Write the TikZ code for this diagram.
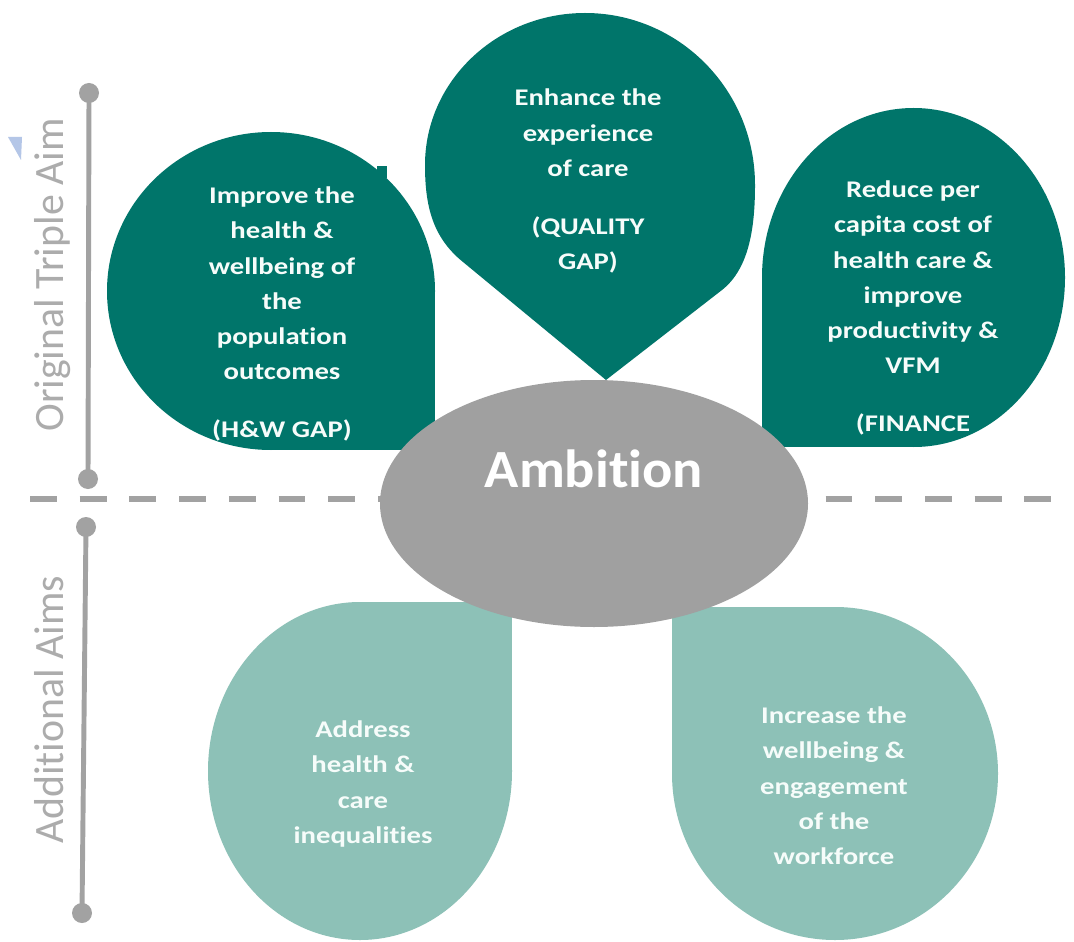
\documentclass[tikz,border=0pt]{standalone}
\usepackage{fontspec}
\newfontfamily\petalfont[FakeStretch=1.2, Ligatures=NoCommon, Contextuals=NoAlternate]{Carlito}
\newfontfamily\labelfont[Ligatures=NoCommon, Contextuals=NoAlternate]{Carlito}
\newfontfamily\ambfont[FakeStretch=1.05, Ligatures=NoCommon, Contextuals=NoAlternate]{Carlito}

\definecolor{tealdark}{RGB}{0,117,106}
\definecolor{teallight}{RGB}{141,193,183}
\definecolor{ambgray}{RGB}{160,160,160}
\definecolor{rulegray}{RGB}{162,162,162}
\definecolor{labelgray}{RGB}{172,172,172}
\definecolor{petalwhite}{RGB}{246,252,250}
\definecolor{markblue}{RGB}{180,198,231}

\tikzset{
  darkpetal/.style={fill=tealdark},
  lightpetal/.style={fill=teallight},
  petaltext/.style={text=petalwhite, align=center, inner sep=0pt,
    font=\petalfont\bfseries\fontsize{13.6}{20.1}\selectfont},
  sidelabel/.style={text=labelgray, rotate=90, anchor=base, inner sep=0pt,
    font=\labelfont\fontsize{23.8}{28}\selectfont},
  aimrule/.style={draw=rulegray, line width=2.8pt},
  aimdot/.style={fill=rulegray},
  splitline/.style={draw=rulegray, line width=3.2pt, dash pattern=on 15.3pt off 13pt}
}

\begin{document}
\begin{tikzpicture}[x=0.02cm, y=-0.02cm]
  \useasboundingbox (0,0) rectangle (1074,942);
  \fill[white] (0,0) rectangle (1074,942);

  % small marker at the upper left
  \fill[markblue] (8,137) -- (22,137) -- (21,160) -- cycle;

  % side rules with end dots
  \coordinate (ta) at (89,93);
  \coordinate (tb) at (88,479);
  \coordinate (ba) at (86,527);
  \coordinate (bb) at (82,913);
  \draw[aimrule] (ta) -- (tb);
  \draw[aimrule] (ba) -- (bb);
  \foreach \p in {ta,tb,ba,bb} \fill[aimdot] (\p) circle [radius=10];

  \node[sidelabel] (lblorig) at (63,275) {Original Triple Aim};
  \node[sidelabel] (lbladd) at (63,710) {Additional Aims};

  % dashed divider between the two groups of aims
  \coordinate (da) at (30,499);
  \coordinate (db) at (1070,499);
  \draw[splitline] (da) -- (db);

  % top-left petal (square corner bottom right)
  \fill[darkpetal] (271,291) ellipse [x radius=164, y radius=159];
  \fill[darkpetal] (271,291) rectangle (435,450);
  \fill[darkpetal] (377,166) rectangle (387,178);

  % top-right petal (square corner bottom left)
  \fill[darkpetal] (913.5,277.5) ellipse [x radius=151.5, y radius=169.5];
  \fill[darkpetal] (762,277.5) rectangle (913.5,447);

  % top-centre petal, tip pointing down
  \fill[darkpetal] (606,380) -- (463,262)
    .. controls (432,237) and (425,205) .. (425,165)
    .. controls (425,81) and (497,13) .. (585,13)
    .. controls (679,13) and (755,90) .. (755,185)
    .. controls (755,225) and (750,268) .. (722,290) -- cycle;

  % bottom-left petal (square corner top right)
  \fill[lightpetal] (360,771) ellipse [x radius=152, y radius=169];
  \fill[lightpetal] (360,602) rectangle (512,771);

  % bottom-right petal (square corner top left)
  \fill[lightpetal] (835,773.5) ellipse [x radius=163, y radius=166.5];
  \fill[lightpetal] (672,607) rectangle (835,773.5);

  % central ellipse
  \fill[ambgray] (594,503.5) ellipse [x radius=214, y radius=123.5];
  \node[text=white, anchor=base, inner sep=0pt,
        font=\ambfont\bfseries\fontsize{30.6}{36}\selectfont] (amb) at (594,487) {Ambition};

  % petal texts
  \node[petaltext] (hw) at (282,314) {Improve the\\health \&\\wellbeing of\\the\\population\\outcomes\\[12.8pt](H\&W GAP)};
  \node[petaltext] (qual) at (588,181) {Enhance the\\experience\\of care\\[12.8pt](QUALITY\\GAP)};
  \node[petaltext] (fin) at (913,308) {Reduce per\\capita cost of\\health care \&\\improve\\productivity \&\\VFM\\[12.8pt](FINANCE};
  \node[petaltext] (ineq) at (363,784) {Address\\health \&\\care\\inequalities};
  \node[petaltext] (work) at (834,786) {Increase the\\wellbeing \&\\engagement\\of the\\workforce};
\end{tikzpicture}
\end{document}
